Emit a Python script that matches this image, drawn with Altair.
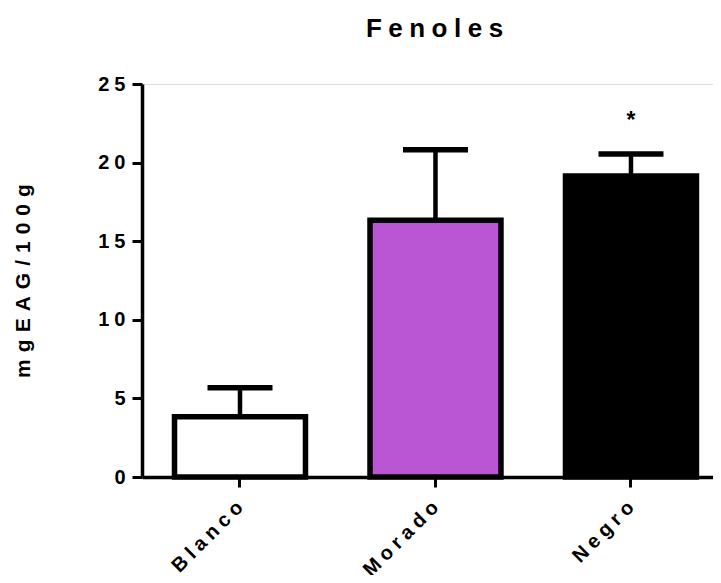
import altair as alt
import pandas as pd

# ---- data ----
groups = ["Blanco", "Morado", "Negro"]
means = [3.84, 16.33, 19.15]
sds = [1.84, 4.49, 1.40]
fills = ["#FFFFFF", "#BA55D3", "#000000"]
signif = ["", "", "*"]
y_ticks = [0, 5, 10, 15, 20, 25]

SP4 = "\u2005"  # four-per-em space used as letter spacing
SP3 = "\u2004"  # three-per-em space
FONT = "Liberation Sans, Arial, Helvetica, sans-serif"


def spaced(s, sp):
    return sp.join(list(s))


df = pd.DataFrame({
    "grupo": groups,
    "media": means,
    "sd": sds,
    "relleno": fills,
    "sig": signif,
})
df["sup"] = df["media"] + df["sd"]

x_enc = alt.X(
    "grupo:N",
    sort=groups,
    scale=alt.Scale(paddingInner=0.33, paddingOuter=0.1254, align=0.663),
    axis=alt.Axis(
        title=None,
        labelAngle=-45,
        labelAlign="right",
        labelBaseline="middle",
        labelPadding=17,
        labelFont=FONT,
        labelFontSize=20,
        labelFontWeight="bold",
        labelColor="black",
        labelExpr="join(split(datum.label, ''), '" + SP4 + "')",
        domainColor="black",
        domainWidth=3.5,
        tickColor="black",
        tickWidth=3,
        tickSize=10,
        grid=False,
    ),
)

y_scale = alt.Scale(domain=[0, 25], nice=False, zero=True)
y_axis = alt.Axis(
    title=spaced("mgEAG/100g", SP3),
    titleFont=FONT,
    titleFontSize=21,
    titleFontWeight="bold",
    titleColor="black",
    titlePadding=64,
    values=y_ticks,
    labelFont=FONT,
    labelFontSize=20,
    labelFontWeight="bold",
    labelColor="black",
    labelPadding=7,
    labelExpr="join(split(datum.label, ''), '" + SP4 + "')",
    domainColor="black",
    domainWidth=3.5,
    tickColor="black",
    tickWidth=3,
    tickSize=10,
    grid=False,
)

base = alt.Chart(df)

bars = base.mark_bar(stroke="black", strokeWidth=5.5).encode(
    x=x_enc,
    y=alt.Y("media:Q", scale=y_scale, axis=y_axis),
    fill=alt.Fill("relleno:N", scale=None),
)

stems = base.mark_rule(color="black", strokeWidth=4.5, strokeCap="butt").encode(
    x=alt.X("grupo:N", sort=groups),
    y=alt.Y("media:Q"),
    y2=alt.Y2("sup:Q"),
)

caps = base.mark_tick(color="black", size=65, thickness=5.5, opacity=1).encode(
    x=alt.X("grupo:N", sort=groups),
    y=alt.Y("sup:Q"),
)

stars = base.mark_text(font=FONT, fontSize=23, fontWeight="bold", color="black", dy=-26, baseline="alphabetic").encode(
    x=alt.X("grupo:N", sort=groups),
    y=alt.Y("sup:Q"),
    text="sig:N",
)

chart = (
    alt.layer(bars, stems, caps, stars)
    .properties(
        width=571,
        height=393,
        padding={"left": 134, "top": 76, "right": 0, "bottom": 98},
        autosize=alt.AutoSizeParams(type="none"),
        title=alt.TitleParams(
            text=spaced("Fenoles", SP4),
            font=FONT,
            fontSize=26,
            fontWeight="bold",
            color="black",
            anchor="middle",
            dx=7,
            offset=32,
        ),
    )
    .configure_view(stroke=None)
    .configure(background="white")
)

chart.save("out.html", embed_options={"renderer": "svg", "actions": False})
